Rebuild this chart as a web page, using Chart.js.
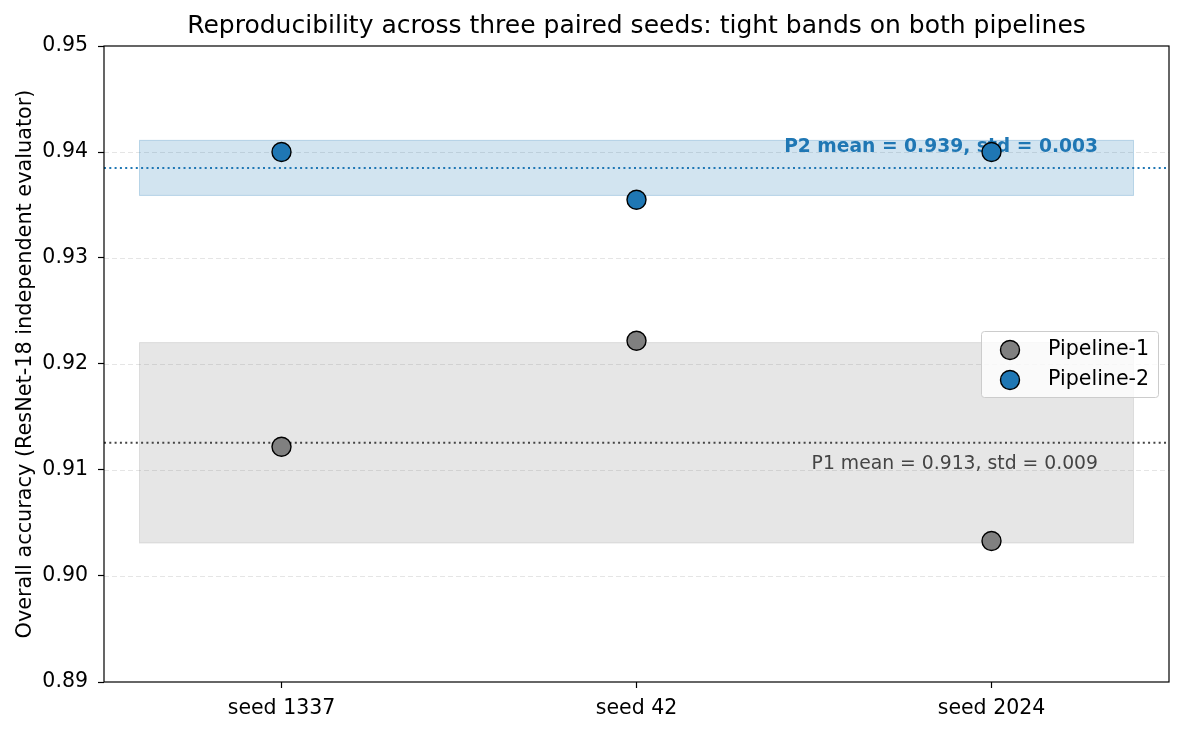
<!DOCTYPE html>
<html><head><meta charset="utf-8">
<script src="https://cdn.jsdelivr.net/npm/chart.js@4.4.1/dist/chart.umd.min.js"></script>
<style>html,body{margin:0;padding:0;background:#fff}#wrap{width:1184px;height:732px}</style>
</head><body><div id="wrap"><canvas id="c" width="1184" height="732"></canvas></div>
<script>
const categories = ['seed 1337', 'seed 42', 'seed 2024'];
const pipeline1 = [0.9122, 0.9222, 0.9033];
const pipeline2 = [0.9400, 0.9355, 0.9400];
const yTicks = [0.89, 0.90, 0.91, 0.92, 0.93, 0.94, 0.95];
const seriesNames = ['Pipeline-1', 'Pipeline-2'];
const titleText = 'Reproducibility across three paired seeds: tight bands on both pipelines';
const yTitle = 'Overall accuracy (ResNet-18 independent evaluator)';

function mean(a){return a.reduce((s,v)=>s+v,0)/a.length;}
function sstd(a){const m=mean(a);return Math.sqrt(a.reduce((s,v)=>s+(v-m)*(v-m),0)/(a.length-1));}
const stats = [pipeline1, pipeline2].map(a=>({m:mean(a), s:sstd(a)}));

const FONT = "'DejaVu Sans', sans-serif";
const C1 = '#808080', C2 = '#1f77b4';

const overlay = {
  id:'overlay',
  beforeDatasetsDraw(chart){
    const {ctx, chartArea:a, scales:{x,y}} = chart;
    ctx.save();
    // grid
    ctx.strokeStyle='rgba(190,190,190,0.4)'; ctx.lineWidth=1; ctx.setLineDash([5,3]);
    yTicks.forEach(t=>{ if(t<=0.891||t>=0.949) return; const py=Math.round(y.getPixelForValue(t))+0.5; ctx.beginPath(); ctx.moveTo(a.left,py); ctx.lineTo(a.right,py); ctx.stroke();});
    ctx.setLineDash([]);
    // bands
    const bands=[{st:stats[0],fill:'rgba(128,128,128,0.2)',edge:'rgba(128,128,128,0.2)'},{st:stats[1],fill:'rgba(31,119,180,0.2)',edge:'rgba(31,119,180,0.25)'}];
    bands.forEach(b=>{
      const x0=x.getPixelForValue(-0.4), x1=x.getPixelForValue(2.4);
      const y0=y.getPixelForValue(b.st.m+b.st.s), y1=y.getPixelForValue(b.st.m-b.st.s);
      ctx.fillStyle=b.fill; ctx.fillRect(x0,y0,x1-x0,y1-y0);
      ctx.strokeStyle=b.edge; ctx.lineWidth=1; ctx.strokeRect(x0,y0,x1-x0,y1-y0);
    });
    // mean lines
    [[stats[0],'#444444'],[stats[1],C2]].forEach(([st,col])=>{
      const py=y.getPixelForValue(st.m);
      ctx.strokeStyle=col; ctx.lineWidth=2; ctx.setLineDash([2,3.3]);
      ctx.beginPath(); ctx.moveTo(a.left,py); ctx.lineTo(a.right,py); ctx.stroke();
    });
    ctx.setLineDash([]);
    // annotations
    ctx.textAlign='right'; ctx.textBaseline='middle';
    ctx.font='bold 18.7px '+FONT; ctx.fillStyle=C2;
    ctx.fillText('P2 mean = '+stats[1].m.toFixed(3)+', std = '+stats[1].s.toFixed(3), x.getPixelForValue(2.3), y.getPixelForValue(stats[1].m+0.002));
    ctx.font='18.8px '+FONT; ctx.fillStyle='#444444';
    ctx.fillText('P1 mean = '+stats[0].m.toFixed(3)+', std = '+stats[0].s.toFixed(3), x.getPixelForValue(2.3), y.getPixelForValue(stats[0].m-0.002));
    ctx.restore();
  },
  afterDraw(chart){
    const {ctx, chartArea:a} = chart;
    ctx.save();
    ctx.strokeStyle='#000'; ctx.lineWidth=1.2;
    ctx.strokeRect(a.left, a.top, a.right-a.left, a.bottom-a.top);
    // title
    ctx.fillStyle='#000'; ctx.textAlign='center'; ctx.textBaseline='alphabetic';
    ctx.font='25px '+FONT;
    ctx.fillText(titleText,(a.left+a.right)/2, 33);
    // y title
    ctx.save(); ctx.translate(31,(a.top+a.bottom)/2); ctx.rotate(-Math.PI/2);
    ctx.font='20.8px '+FONT; ctx.textBaseline='alphabetic'; ctx.fillText(yTitle,0,0); ctx.restore();
    // legend
    const lx=981, ly=331, lw=177, lh=66;
    ctx.fillStyle='rgba(255,255,255,0.8)'; ctx.strokeStyle='#cccccc'; ctx.lineWidth=1;
    ctx.beginPath(); ctx.roundRect(lx+0.5,ly+0.5,lw,lh,3); ctx.fill(); ctx.stroke();
    [[C1,seriesNames[0],350],[C2,seriesNames[1],380]].forEach(([c,t,py])=>{
      ctx.beginPath(); ctx.arc(1010,py,9.5,0,Math.PI*2); ctx.fillStyle=c; ctx.fill();
      ctx.strokeStyle='#000'; ctx.lineWidth=1.4; ctx.stroke();
      ctx.fillStyle='#000'; ctx.font='20.6px '+FONT; ctx.textAlign='left'; ctx.textBaseline='middle';
      ctx.fillText(t,1048,py);
    });
    ctx.restore();
  }
};

new Chart(document.getElementById('c'), {
  type:'scatter',
  data:{datasets:[
    {label:seriesNames[0], data:pipeline1.map((v,i)=>({x:i,y:v})), backgroundColor:C1, borderColor:'#000', borderWidth:1.4, pointRadius:9.5, pointHoverRadius:9.5},
    {label:seriesNames[1], data:pipeline2.map((v,i)=>({x:i,y:v})), backgroundColor:C2, borderColor:'#000', borderWidth:1.4, pointRadius:9.5, pointHoverRadius:9.5}
  ]},
  options:{
    responsive:false, animation:false, devicePixelRatio:1,
    layout:{padding:{top:46,right:15,left:0,bottom:0}},
    plugins:{legend:{display:false}, title:{display:false}, tooltip:{enabled:false}},
    scales:{
      x:{type:'linear', min:-0.5, max:2.5,
        afterBuildTicks(s){ s.ticks = categories.map((_,i)=>({value:i})); },
        afterFit(s){ s.height=50; },
        ticks:{callback:(v)=>categories[v] ?? '', color:'#000', font:{family:FONT,size:20.5}, padding:8, maxRotation:0, autoSkip:false},
        grid:{display:true, drawOnChartArea:false, drawTicks:true, tickLength:6, tickColor:'#000', tickWidth:1.2},
        border:{display:false}
      },
      y:{type:'linear', min:0.89, max:0.95,
        afterBuildTicks(s){ s.ticks = yTicks.map(v=>({value:v})); },
        afterFit(s){ s.width=104; },
        ticks:{callback:(v)=>v.toFixed(2), color:'#000', font:{family:FONT,size:20.5}, padding:10},
        grid:{display:true, drawOnChartArea:false, drawTicks:true, tickLength:6, tickColor:'#000', tickWidth:1.2},
        border:{display:false}
      }
    }
  },
  plugins:[overlay]
});
</script></body></html>
